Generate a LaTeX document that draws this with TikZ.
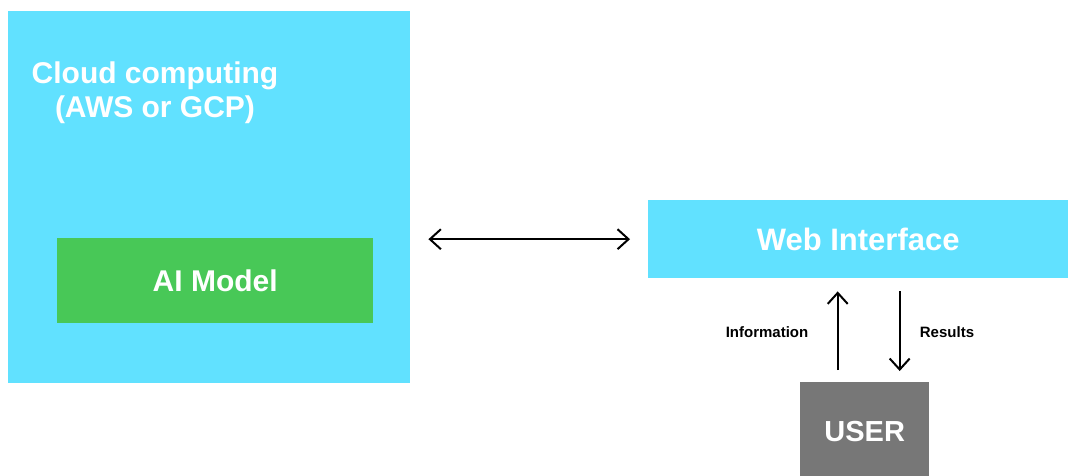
\documentclass[tikz,border=0pt]{standalone}
\usepackage{fontspec}
\setsansfont{Liberation Sans}
\usetikzlibrary{arrows.meta, positioning}
\definecolor{cloudcyan}{RGB}{97,225,255}
\definecolor{modelgreen}{RGB}{72,200,87}
\definecolor{usergray}{RGB}{119,119,119}

\begin{document}
\begin{tikzpicture}[x=1pt, y=-1pt, font=\sffamily\bfseries, box style/.style={anchor=north west, inner sep=0pt, text=white}, cloud box/.style={box style, fill=cloudcyan}, model box/.style={box style, fill=modelgreen}, user box/.style={box style, fill=usergray}, link style/.style={{Straight Barb[length=11pt,width=20pt]}-{Straight Barb[length=11pt,width=20pt]}, line width=2pt, black}, flow style/.style={-{Straight Barb[length=11pt,width=20pt]}, line width=2pt, black}, label style/.style={font=\sffamily\bfseries\fontsize{15}{17}\selectfont}]

    \useasboundingbox (0,0) rectangle (1068,475);

    % =========================================================================
    % NUBE: Cloud computing con el modelo dentro
    % =========================================================================
    \node[cloud box, minimum width=402pt, minimum height=372pt] (cloud) at (8,11) {};
    \node[text=white, align=center, font=\sffamily\bfseries\fontsize{30}{34}\selectfont] (cloudtitle) at (155,93) {Cloud computing\\(AWS or GCP)};

    \node[model box, minimum width=316pt, minimum height=85pt, font=\sffamily\bfseries\fontsize{30}{34}\selectfont] (model) at (57,238) {AI Model};

    % =========================================================================
    % WEB y USUARIO
    % =========================================================================
    \node[cloud box, minimum width=420pt, minimum height=78pt, font=\sffamily\bfseries\fontsize{31}{35}\selectfont] (web) at (648,200) {Web Interface};
    \node[user box, minimum width=129pt, minimum height=98pt, font=\sffamily\bfseries\fontsize{29}{33}\selectfont] (user) at (800,382) {USER};

    % Conexiones
    \draw[link style, shorten <=18pt, shorten >=18pt] (cloud.east |- web.west) -- (web.west);
    \draw[flow style, shorten <=12pt, shorten >=13pt] ([xshift=-27pt]user.north) -- ([xshift=-27pt]user.north |- web.south);
    \draw[flow style, shorten <=13pt, shorten >=11pt] ([xshift=35pt]user.north |- web.south) -- ([xshift=35pt]user.north);

    % Etiquetas de las flechas
    \node[label style] (info) at (767,332) {Information};
    \node[label style] (results) at (947,332) {Results};

\end{tikzpicture}
\end{document}
